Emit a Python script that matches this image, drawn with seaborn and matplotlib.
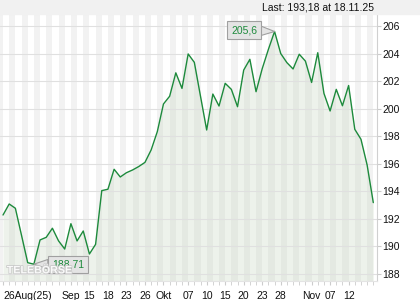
import pandas as pd
import seaborn as sns
import matplotlib.pyplot as plt
import matplotlib.patheffects as pe
from matplotlib.patches import Rectangle

# daily closing prices, 26 Aug 2025 .. 18 Nov 2025
prices = [192.28, 193.08, 192.77, 190.8, 188.82, 188.71, 190.47, 190.66, 191.32, 190.4,
          189.81, 191.65, 190.4, 191.12, 189.45, 190.15, 194.05, 194.15, 195.6, 195.04,
          195.35, 195.55, 195.8, 196.1, 197.0, 198.33, 200.34, 200.9, 202.6, 201.47,
          203.97, 203.36, 200.9, 198.45, 201.06, 200.19, 201.84, 201.4, 200.14, 202.8,
          203.58, 201.23, 202.9, 204.3, 205.6, 204.0, 203.34, 202.88, 203.95, 203.45,
          201.9, 204.06, 201.11, 199.83, 201.4, 200.21, 201.68, 198.5, 197.78, 195.91,
          193.18]
tick_pos = [0, 11, 14, 17, 20, 23, 26, 30, 33, 36, 39, 42, 45, 50, 53, 56]
tick_labels = ['26Aug(25)', 'Sep', '15', '18', '23', '26', 'Okt', '07', '10', '15',
               '20', '23', '28', 'Nov', '07', '12']
y_ticks = [188, 190, 192, 194, 196, 198, 200, 202, 204, 206]
last_text = 'Last: 193,18 at 18.11.25'
hi_idx, hi_label = 44, '205,6'
lo_idx, lo_label = 5, '188,71'

df = pd.DataFrame({'day': range(len(prices)), 'price': prices})

sns.set_style('white')
plt.rcParams['font.family'] = ['Liberation Sans', 'DejaVu Sans']

green = '#1d8a3c'
ymin, ymax = 187.49, 206.87

fig = plt.figure(figsize=(4.2, 3), dpi=100)
fig.patches.append(Rectangle((0, 286 / 300), 1, 14 / 300, transform=fig.transFigure,
                             color='#f1f1f1', zorder=0))
ax = fig.add_axes([0, 19 / 300, 377 / 420, 267 / 300])

# alternating day stripes
for k in range(0, 32):
    ax.axvspan(2 * k - 1, 2 * k, color='#f2f2f2', lw=0, zorder=0)

for v in y_ticks:
    ax.axhline(v, color='#e0e0e0', lw=0.8, zorder=1.5)

ax.fill_between(df['day'], df['price'], ymin, color='#c6d7c0', alpha=0.3, lw=0, zorder=1)
sns.lineplot(data=df, x='day', y='price', color=green, lw=1.0, ax=ax, zorder=3)

ax.set_xlim(-0.49, 60.6)
ax.set_ylim(ymin, ymax)
ax.set_xlabel('')
ax.set_ylabel('')

ax.yaxis.tick_right()
ax.set_yticks(y_ticks)
ax.set_xticks(range(len(prices)), minor=True)
ax.set_xticks(tick_pos, tick_labels)
ax.get_xticklabels()[0].set_horizontalalignment('left')
ax.tick_params(axis='y', length=3, color='#cccccc', pad=1, labelsize=7.5,
               labelcolor='#111111', right=True, left=False)
ax.tick_params(axis='x', which='both', length=3, color='#cccccc', pad=4,
               labelsize=7.5, labelcolor='#111111', bottom=True)

for s in ['left', 'top']:
    ax.spines[s].set_visible(False)
ax.spines['right'].set_color('#d0d0d0')
ax.spines['right'].set_linewidth(0.8)
ax.spines['bottom'].set_color('#e4e4e4')
ax.spines['bottom'].set_linewidth(0.8)

box = dict(boxstyle='square,pad=0.35', fc='#e4e4e4', ec='#a0a0a0', lw=0.8)
arrow = dict(arrowstyle='wedge,tail_width=0.9', fc='#e4e4e4', ec='#a0a0a0', lw=0.8,
             shrinkA=0, shrinkB=0)
ax.annotate(hi_label, xy=(hi_idx, prices[hi_idx]), xytext=(-22, 1),
            textcoords='offset points', ha='center', va='center', color=green,
            fontsize=7.5, bbox=box, arrowprops=arrow, zorder=5)
ax.annotate(lo_label, xy=(lo_idx, prices[lo_idx]), xytext=(24.5, 0),
            textcoords='offset points', ha='center', va='center', color=green,
            fontsize=7.5, bbox=box, arrowprops=arrow, zorder=5)

ax.text(0.018, 0.04, 'TELEBÖRSE', transform=ax.transAxes, fontsize=7.7,
        fontweight='bold', color='white', va='center', zorder=6, alpha=0.9,
        path_effects=[pe.withStroke(linewidth=1.2, foreground='#c8c8c8')])

fig.text(374 / 420, 1 - 7 / 300, last_text, ha='right', va='center',
         fontsize=7.5, color='#111111')

fig.savefig('out.png', dpi=100)
